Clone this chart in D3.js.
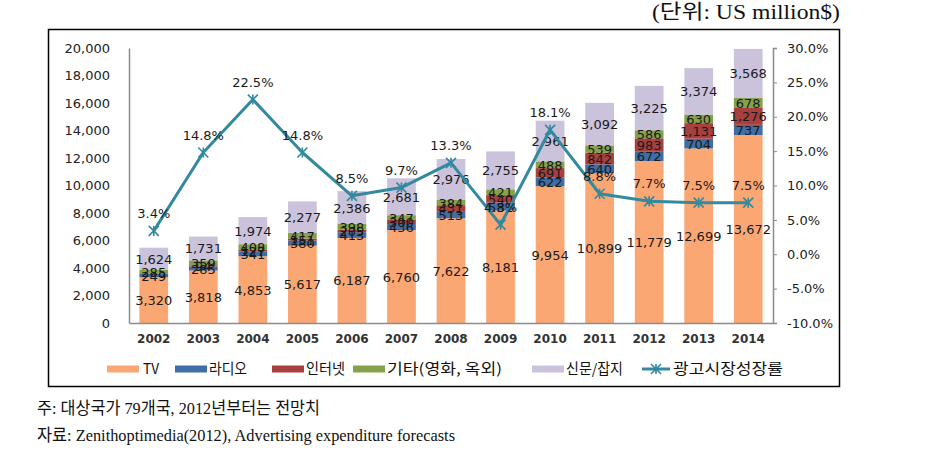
<!DOCTYPE html>
<html><head><meta charset="utf-8">
<script src="https://cdn.jsdelivr.net/npm/d3@7/dist/d3.min.js"></script>
<style>body{margin:0;background:#fff}svg{display:block}</style>
</head><body>
<svg id="c" width="950" height="467"></svg>
<script>
const years = ["2002","2003","2004","2005","2006","2007","2008","2009","2010","2011","2012","2013","2014"];
const tv = [3320,3818,4853,5617,6187,6760,7622,8181,9954,10899,11779,12699,13672];
const radio = [249,285,341,380,413,436,513,581,622,640,672,704,737];
const internet = [0,94,127,151,205,300,431,540,691,842,983,1131,1276];
const other = [285,359,408,417,398,347,384,421,488,539,586,630,678];
const news = [1624,1731,1974,2277,2386,2681,2976,2755,2961,3092,3225,3374,3568];
const growth = [3.4,14.8,22.5,14.8,8.5,9.7,13.3,4.3,18.1,8.8,7.7,7.5,7.5];
const leftTicks = [0,2000,4000,6000,8000,10000,12000,14000,16000,18000,20000];
const rightTicks = [-10,-5,0,5,10,15,20,25,30];
const seriesNames = ["TV","라디오","인터넷","기타(영화, 옥외)","신문/잡지"];
const lineName = "광고시장성장률";
const colors = ["#FAA774","#3F6EA6","#A8403D","#85A24A","#CBC2DC"];
const lineColor = "#33899E";

const svg = d3.select("#c");
const L = 129, R = 773, T = 48, B = 323;
const x = d3.scaleBand().domain(years).range([L,R]).paddingInner(0.42).paddingOuter(0.21);
const y = d3.scaleLinear().domain([0,20000]).range([B,T]);
const y2 = d3.scaleLinear().domain([-10,30]).range([B,T]);

// outer border
svg.append("rect").attr("x",48.5).attr("y",29.5).attr("width",791).attr("height",357)
  .attr("fill","none").attr("stroke","#000").attr("stroke-width",1.5);

// unit text
svg.append("text").attr("x",652).attr("y",19)
  .attr("font-family","'Liberation Serif','Noto Sans CJK KR'").attr("font-size",20)
  .attr("textLength",188).attr("lengthAdjust","spacingAndGlyphs")
  .attr("fill","#111").text("(단위: US million$)");

// data table
const table = years.map((yr,i)=>({year:yr, s0:tv[i], s1:radio[i], s2:internet[i], s3:other[i], s4:news[i]}));
const keys = ["s0","s1","s2","s3","s4"];
const stacked = d3.stack().keys(keys)(table);

const gBars = svg.append("g");
stacked.forEach((layer,k)=>{
  gBars.selectAll(null).data(layer).enter().append("rect")
    .attr("x",d=>x(d.data.year)).attr("width",x.bandwidth())
    .attr("y",d=>y(d[1])).attr("height",d=>Math.max(0,y(d[0])-y(d[1])))
    .attr("fill",colors[k]);
});

// axes
const fnt = "'DejaVu Sans',Verdana,sans-serif";
const ax = svg.append("g").attr("transform",`translate(${L},0)`)
  .call(d3.axisLeft(y).tickValues(leftTicks).tickSize(0).tickPadding(19).tickFormat(d3.format(",")));
ax.select(".domain").attr("stroke","#8c8c8c").attr("stroke-width",1.5);
ax.selectAll("text").attr("font-family",fnt).attr("font-size",13).attr("fill","#222");

const ar = svg.append("g").attr("transform",`translate(${R},0)`)
  .call(d3.axisRight(y2).tickValues(rightTicks).tickSize(4).tickPadding(10).tickFormat(d=>d.toFixed(1)+"%"));
ar.select(".domain").attr("stroke","#8c8c8c").attr("stroke-width",1.5);
ar.selectAll("line").attr("stroke","#8c8c8c");
ar.selectAll("text").attr("font-family",fnt).attr("font-size",13).attr("fill","#222");

const ab = svg.append("g").attr("transform",`translate(0,${B})`)
  .call(d3.axisBottom(x).tickSize(0).tickPadding(11));
ab.select(".domain").attr("stroke","#8c8c8c").attr("stroke-width",1.5);
ab.selectAll("text").attr("font-family",fnt).attr("font-size",12).attr("font-weight","bold").attr("fill","#333");

// bar labels
const gLab = svg.append("g").attr("font-family",fnt).attr("font-size",13).attr("fill","#1a1a1a").attr("text-anchor","middle");
stacked.forEach((layer,k)=>{
  gLab.selectAll(null).data(layer.filter(d=>d[1]-d[0]>0)).enter().append("text")
    .attr("x",d=>x(d.data.year)+x.bandwidth()/2)
    .attr("y",d=>(y(d[0])+y(d[1]))/2+5)
    .text(d=>d3.format(",")(d[1]-d[0]));
});

// growth line
const cx = i=>x(years[i])+x.bandwidth()/2;
const line = d3.line().x((d,i)=>cx(i)).y(d=>y2(d));
svg.append("path").datum(growth).attr("d",line).attr("fill","none")
  .attr("stroke",lineColor).attr("stroke-width",3).attr("stroke-linejoin","round");
const star = (px,py,r)=>`M${px-r},${py-r}L${px+r},${py+r}M${px-r},${py+r}L${px+r},${py-r}M${px},${py-r}L${px},${py+r}`;
svg.append("g").selectAll("path").data(growth).enter().append("path")
  .attr("d",(d,i)=>star(cx(i),y2(d),5)).attr("stroke",lineColor).attr("stroke-width",1.6).attr("fill","none");
svg.append("g").attr("font-family",fnt).attr("font-size",13).attr("fill","#1a1a1a").attr("text-anchor","middle")
  .selectAll("text").data(growth).enter().append("text")
  .attr("x",(d,i)=>cx(i)).attr("y",d=>y2(d)-13).text(d=>d.toFixed(1)+"%");

// legend
const legY = 369;
const kfont = "'Noto Sans CJK KR',sans-serif";
const legItems = [
  {sx:107, tx:143, w:16, name:seriesNames[0], c:colors[0]},
  {sx:175, tx:209, w:38, name:seriesNames[1], c:colors[1]},
  {sx:272, tx:306, w:39, name:seriesNames[2], c:colors[2]},
  {sx:353, tx:387, w:115, name:seriesNames[3], c:colors[3]},
  {sx:532, tx:566, w:57, name:seriesNames[4], c:colors[4]}
];
const gLeg = svg.append("g");
legItems.forEach(it=>{
  gLeg.append("rect").attr("x",it.sx).attr("y",legY-3.5).attr("width",32).attr("height",7).attr("fill",it.c);
  gLeg.append("text").attr("x",it.tx).attr("y",legY+5).attr("font-family",kfont)
    .attr("font-size",14.5).attr("fill","#111")
    .attr("textLength",it.w).attr("lengthAdjust","spacingAndGlyphs").text(it.name);
});
gLeg.append("line").attr("x1",642).attr("x2",670).attr("y1",legY).attr("y2",legY).attr("stroke",lineColor).attr("stroke-width",3);
gLeg.append("path").attr("d",star(656,legY,5)).attr("stroke",lineColor).attr("stroke-width",1.6);
gLeg.append("text").attr("x",673).attr("y",legY+5).attr("font-family",kfont)
  .attr("font-size",14.5).attr("fill","#111")
  .attr("textLength",110).attr("lengthAdjust","spacingAndGlyphs").text(lineName);

// footnotes
const serif = "'Liberation Serif','Noto Sans CJK KR',serif";
svg.append("text").attr("x",37).attr("y",414).attr("font-family",serif).attr("font-size",17)
  .attr("fill","#111").attr("textLength",283).attr("lengthAdjust","spacingAndGlyphs").text("주: 대상국가 79개국, 2012년부터는 전망치");
svg.append("text").attr("x",37).attr("y",441).attr("font-family",serif).attr("font-size",17)
  .attr("fill","#111").attr("textLength",418).attr("lengthAdjust","spacingAndGlyphs").text("자료: Zenithoptimedia(2012), Advertising expenditure forecasts");
</script>
</body></html>
